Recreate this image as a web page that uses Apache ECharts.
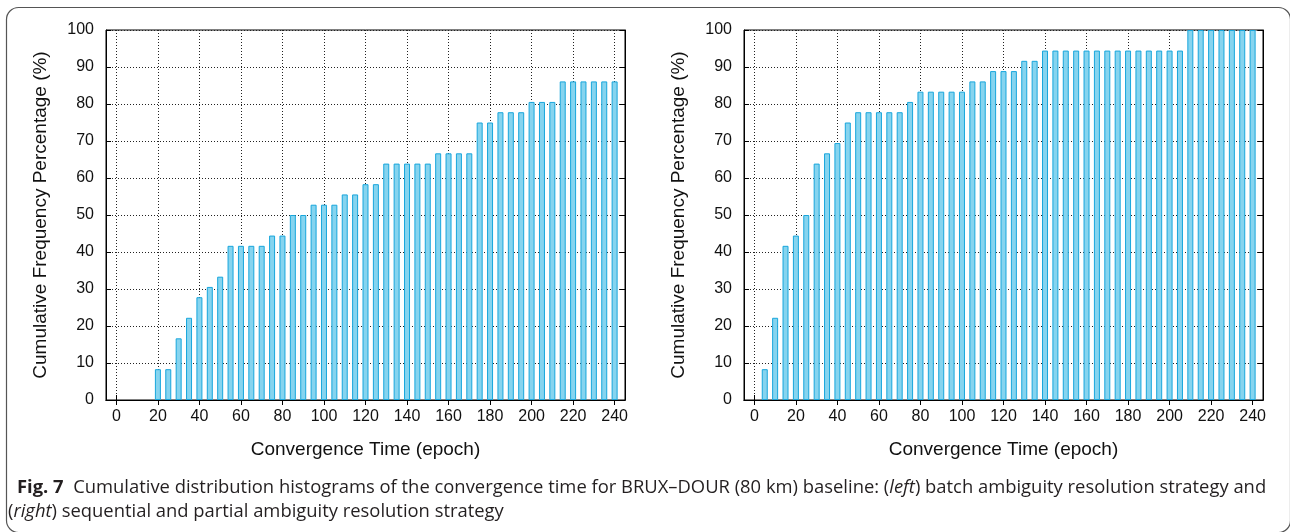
<!DOCTYPE html>
<html>
<head>
<meta charset="utf-8">
<script src="https://cdn.jsdelivr.net/npm/echarts@6/dist/echarts.min.js"></script>
<style>
html,body{margin:0;padding:0;background:#fff;}
#chart{width:1290px;height:532px;}
</style>
</head>
<body>
<div id="chart"></div>
<script>
// Convergence time bins (epoch)
const epochs = [0,5,10,15,20,25,30,35,40,45,50,55,60,65,70,75,80,85,90,95,100,105,110,115,120,125,130,135,140,145,150,155,160,165,170,175,180,185,190,195,200,205,210,215,220,225,230,235,240];
// Left: batch ambiguity resolution (cumulative %)
const batchPct = [0,0,0,0,8.33,8.33,16.67,22.22,27.78,30.56,33.33,41.67,41.67,41.67,41.67,44.44,44.44,50,50,52.78,52.78,52.78,55.56,55.56,58.33,58.33,63.89,63.89,63.89,63.89,63.89,66.67,66.67,66.67,66.67,75,75,77.78,77.78,77.78,80.56,80.56,80.56,86.11,86.11,86.11,86.11,86.11,86.11];
// Right: sequential and partial ambiguity resolution (cumulative %)
const seqPct = [0,8.33,22.22,41.67,44.44,50,63.89,66.67,69.44,75,77.78,77.78,77.78,77.78,77.78,80.56,83.33,83.33,83.33,83.33,83.33,86.11,86.11,88.89,88.89,88.89,91.67,91.67,94.44,94.44,94.44,94.44,94.44,94.44,94.44,94.44,94.44,94.44,94.44,94.44,94.44,94.44,100,100,100,100,100,100,100];
// Axis padding slots and label step
const padLeft = '-5', padRight = '245';
const xLabelStep = 20;
const yMin = 0, yMax = 100, yStep = 10;

const xTitle = 'Convergence Time (epoch)';
const yTitle = 'Cumulative Frequency Percentage (%)';
const captionLine1 = '{b|Fig. 7}  Cumulative distribution histograms of the convergence time for BRUX\u2013DOUR (80 km) baseline: ({i|left}) batch ambiguity resolution strategy and';
const captionLine2 = '({i|right}) sequential and partial ambiguity resolution strategy';

const cats = [padLeft].concat(epochs.map(String)).concat([padRight]);
const isMajor = (idx, val) => Number(val) % xLabelStep === 0;
const font = 'Liberation Sans, Arial, Helvetica, sans-serif';
const capFont = 'Open Sans, Noto Sans, sans-serif';
const capSize = 18.4;

function xAxes(gi) {
  return [
    {
      type: 'category', gridIndex: gi, data: cats, boundaryGap: false, position: 'bottom',
      axisLine: {show: true, lineStyle: {color: '#000', width: 1}},
      axisTick: {show: true, inside: true, length: 5, interval: isMajor, lineStyle: {color: '#000'}},
      axisLabel: {show: true, interval: isMajor, margin: 9, fontSize: 16, color: '#111', fontFamily: font},
      splitLine: {show: true, interval: isMajor, lineStyle: {color: '#222', type: [1, 2], width: 1}},
      name: xTitle, nameLocation: 'middle', nameGap: 40,
      nameTextStyle: {fontSize: 19, color: '#111', fontFamily: font}
    },
    {
      type: 'category', gridIndex: gi, data: cats, boundaryGap: false, position: 'top',
      axisLine: {show: true, lineStyle: {color: '#000', width: 1}},
      axisTick: {show: true, inside: true, length: 5, interval: isMajor, lineStyle: {color: '#000'}},
      axisLabel: {show: false}, splitLine: {show: false}
    }
  ];
}
function yAxes(gi) {
  return [
    {
      type: 'value', gridIndex: gi, min: yMin, max: yMax, interval: yStep, position: 'left',
      axisLine: {show: true, lineStyle: {color: '#000', width: 1}},
      axisTick: {show: true, inside: true, length: 5, lineStyle: {color: '#000'}},
      axisLabel: {margin: 12, fontSize: 16, color: '#111', fontFamily: font},
      splitLine: {show: true, lineStyle: {color: '#222', type: [1, 2], width: 1}},
      name: yTitle, nameLocation: 'middle', nameGap: 56,
      nameTextStyle: {fontSize: 19, color: '#111', fontFamily: font}
    },
    {
      type: 'value', gridIndex: gi, min: yMin, max: yMax, interval: yStep, position: 'right',
      axisLine: {show: true, lineStyle: {color: '#000', width: 1}},
      axisTick: {show: true, inside: true, length: 5, lineStyle: {color: '#000'}},
      axisLabel: {show: false}, splitLine: {show: false}
    }
  ];
}
function barSeries(gi, vals) {
  return {
    type: 'bar', xAxisIndex: gi * 2, yAxisIndex: gi * 2,
    data: [null].concat(vals.map(v => (v === 0 ? null : v))).concat([null]),
    barWidth: 6,
    itemStyle: {color: '#86d4ef', borderColor: '#18a6dc', borderWidth: 1},
    emphasis: {disabled: true},
    animation: false
  };
}

const chart = echarts.init(document.getElementById('chart'), null, {renderer: 'canvas'});
chart.setOption({
  animation: false,
  backgroundColor: '#fff',
  grid: [
    {left: 106, top: 30, width: 519, height: 370, show: true, borderColor: '#000', borderWidth: 1, containLabel: false},
    {left: 744, top: 30, width: 519, height: 370, show: true, borderColor: '#000', borderWidth: 1, containLabel: false}
  ],
  xAxis: xAxes(0).concat(xAxes(1)),
  yAxis: yAxes(0).concat(yAxes(1)),
  series: [barSeries(0, batchPct), barSeries(1, seqPct)],
  graphic: [
    {type: 'rect', left: 4, top: 5, shape: {x: 0, y: 0, width: 1284, height: 525, r: 12},
     style: {fill: 'none', stroke: '#555', lineWidth: 1.2}, silent: true, z: -1},
    {type: 'text', left: 17, top: 479, style: {
      text: captionLine1, fontSize: capSize, fill: '#231f20', fontFamily: capFont,
      rich: {b: {fontWeight: 'bold', fontSize: capSize, fontFamily: capFont, fill: '#231f20'},
             i: {fontStyle: 'italic', fontSize: capSize, fontFamily: capFont, fill: '#231f20'}}
    }},
    {type: 'text', left: 8, top: 503, style: {
      text: captionLine2, fontSize: capSize, fill: '#231f20', fontFamily: capFont,
      rich: {i: {fontStyle: 'italic', fontSize: capSize, fontFamily: capFont, fill: '#231f20'}}
    }}
  ]
});
</script>
</body>
</html>
